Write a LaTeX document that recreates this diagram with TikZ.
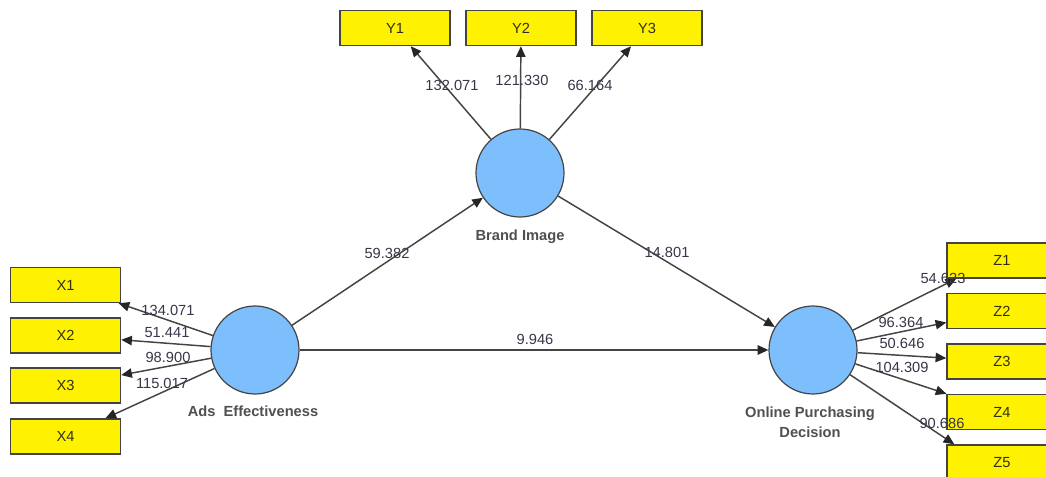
\documentclass[tikz,border=0pt]{standalone}
\usepackage{fontspec}
\setmainfont{Liberation Sans}
\usetikzlibrary{arrows.meta}
\definecolor{lineg}{HTML}{444444}
\definecolor{latblue}{HTML}{7DBFFC}
\definecolor{numc}{HTML}{3A3548}
\definecolor{labc}{HTML}{505050}
\definecolor{boxtxt}{HTML}{303010}
\begin{document}
\begin{tikzpicture}[x=0.75pt,y=-0.75pt,
  ind/.style={draw=lineg, line width=1.1pt, fill=yellow, minimum width=82.5pt, minimum height=26.25pt, inner sep=0pt, text=boxtxt, font=\fontsize{11}{13}\selectfont},
  lat/.style={circle, draw=lineg, line width=0.9pt, fill=latblue, minimum size=66pt, inner sep=0pt},
  conn/.style={draw=lineg, line width=1.1pt, -{Triangle[length=8pt,width=7pt,color=black!85]}},
  num/.style={font=\fontsize{11}{13}\selectfont, text=numc, inner sep=0pt},
  lab/.style={font=\fontsize{11}{15}\selectfont\bfseries, text=labc, align=center, inner sep=0pt}]
\useasboundingbox (0,0) rectangle (1046,477);
\clip (0,0) rectangle (1046,477);
\fill[white] (0,0) rectangle (1046,477);

% latent variables
\node[lat] (bi) at (520,173) {};
\node[lat] (ae) at (255,350) {};
\node[lat] (opd) at (813,350) {};

% indicators
\node[ind] (y1) at (395,28) {Y1};
\node[ind] (y2) at (521,28) {Y2};
\node[ind] (y3) at (647,28) {Y3};
\node[ind] (x1) at (65.5,285) {X1};
\node[ind] (x2) at (65.5,335.5) {X2};
\node[ind] (x3) at (65.5,385.5) {X3};
\node[ind] (x4) at (65.5,436.5) {X4};
\node[ind] (z1) at (1002,260.5) {Z1};
\node[ind] (z2) at (1002,311) {Z2};
\node[ind] (z3) at (1002,361.5) {Z3};
\node[ind] (z4) at (1002,412) {Z4};
\node[ind] (z5) at (1002,462.5) {Z5};

% connectors
\draw[conn] (bi) -- (y1);
\draw[conn] (bi) -- (y2);
\draw[conn] (bi) -- (y3);
\draw[conn] (ae) -- (x1);
\draw[conn] (ae) -- (x2);
\draw[conn] (ae) -- (x3);
\draw[conn] (ae) -- (x4);
\draw[conn] (opd) -- ([xshift=7.5pt]z1.south west);
\draw[conn] (opd) -- (z2);
\draw[conn] (opd) -- (z3);
\draw[conn] (opd) -- (z4);
\draw[conn] (opd) -- ([xshift=6pt]z5.north west);
\draw[conn] (ae) -- (bi);
\draw[conn] (bi) -- (opd);
\draw[conn] (ae) -- (opd);

% latent labels
\node[lab] (bil) at (520,237) {Brand Image};
\node[lab] (ael) at (253,411) {Ads\ \ Effectiveness};
\node[lab] (opdl) at (810,422) {Online Purchasing\\Decision};

% coefficients
\node[num] (n1) at (452,85) {132.071};
\node[num] (n2) at (522,80) {121.330};
\node[num] (n3) at (590,85) {66.164};
\node[num] (n4) at (168,310) {134.071};
\node[num] (n5) at (167,333) {51.441};
\node[num] (n6) at (168,357) {98.900};
\node[num] (n7) at (162,383) {115.017};
\node[num] (n8) at (387,253) {59.382};
\node[num] (n9) at (667,252) {14.801};
\node[num] (n10) at (535,339) {9.946};
\node[num] (n11) at (943,278) {54.623};
\node[num] (n12) at (901,322) {96.364};
\node[num] (n13) at (902,343) {50.646};
\node[num] (n14) at (902,367) {104.309};
\node[num] (n15) at (942,423) {90.686};
\end{tikzpicture}
\end{document}
